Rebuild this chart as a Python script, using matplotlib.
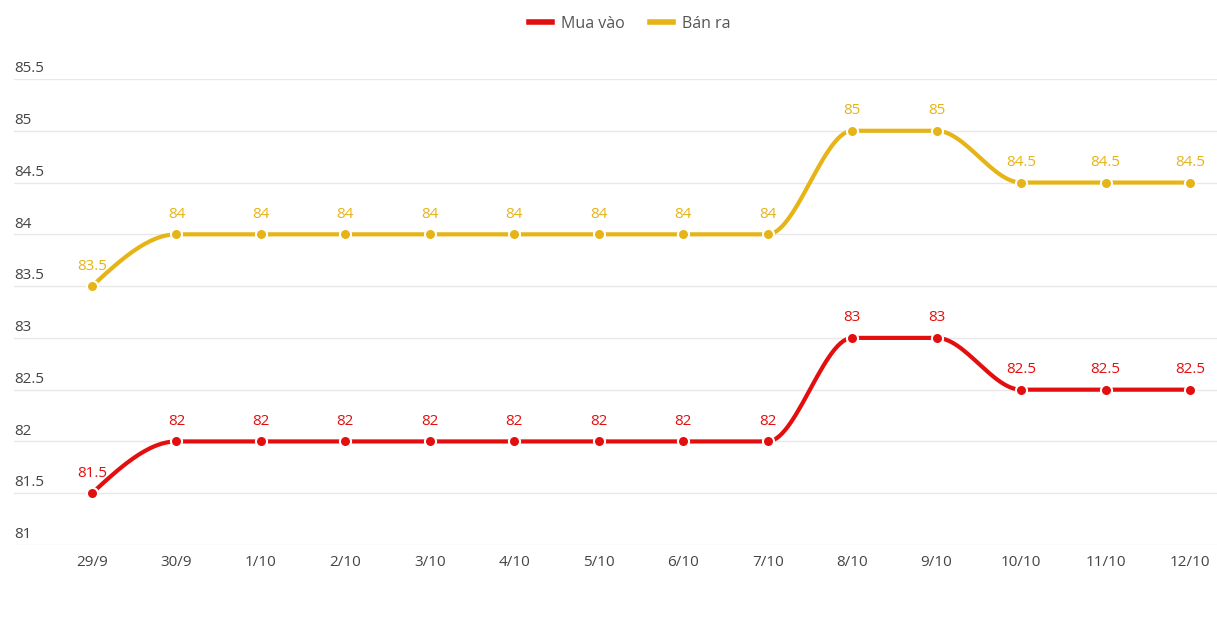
import numpy as np
import matplotlib
matplotlib.use('Agg')
import matplotlib.pyplot as plt
import matplotlib.transforms as mtransforms
from matplotlib.lines import Line2D

plt.rcParams['font.family'] = ['Open Sans', 'DejaVu Sans']

dates = ['29/9', '30/9', '1/10', '2/10', '3/10', '4/10', '5/10', '6/10', '7/10',
         '8/10', '9/10', '10/10', '11/10', '12/10']
mua_vao = [81.5, 82, 82, 82, 82, 82, 82, 82, 82, 83, 83, 82.5, 82.5, 82.5]
ban_ra = [83.5, 84, 84, 84, 84, 84, 84, 84, 84, 85, 85, 84.5, 84.5, 84.5]
y_ticks = [81, 81.5, 82, 82.5, 83, 83.5, 84, 84.5, 85, 85.5]

RED = '#e30e0e'
GOLD = '#e6b417'


def monotone(x, y, n=30):
    # Fritsch-Carlson monotone cubic interpolation
    x = np.asarray(x, float)
    y = np.asarray(y, float)
    h = np.diff(x)
    d = np.diff(y) / h
    m = np.zeros_like(y)
    for i in range(1, len(y) - 1):
        if d[i - 1] * d[i] <= 0:
            m[i] = 0
        else:
            m[i] = 3 * (h[i - 1] + h[i]) / ((2 * h[i] + h[i - 1]) / d[i - 1] + (h[i] + 2 * h[i - 1]) / d[i])
    # endpoints like d3 monotoneX
    m[0] = (3 * d[0] - m[1]) / 2 if d[0] != 0 else 0
    m[-1] = (3 * d[-1] - m[-2]) / 2 if d[-1] != 0 else 0
    xs, ys = [], []
    for i in range(len(x) - 1):
        t = np.linspace(0, 1, n)
        h00 = 2 * t**3 - 3 * t**2 + 1
        h10 = t**3 - 2 * t**2 + t
        h01 = -2 * t**3 + 3 * t**2
        h11 = t**3 - t**2
        xs.append(x[i] + t * h[i])
        ys.append(h00 * y[i] + h10 * h[i] * m[i] + h01 * y[i + 1] + h11 * h[i] * m[i + 1])
    return np.concatenate(xs), np.concatenate(ys)


fig = plt.figure(figsize=(12.17, 6.18), dpi=100)
ax = fig.add_axes([14 / 1217, 1 - 545 / 618, 1 - 14 / 1217, (545 - 79) / 618])

x = np.arange(len(dates))
for vals, col in [(ban_ra, GOLD), (mua_vao, RED)]:
    sx, sy = monotone(x, vals)
    ax.plot(sx, sy, color=col, lw=3, solid_capstyle='round', zorder=3)
    ax.plot(x, vals, 'o', color=col, ms=8, mec='white', mew=1.5, zorder=4)
    for xi, v in zip(x, vals):
        ax.annotate('{:g}'.format(v), (xi, v), xytext=(0, 9), textcoords='offset points',
                    ha='center', va='bottom', color=col, fontsize=11)

step = (1190 - 92) / 13
ax.set_xlim(-(92 - 14) / step, 13 + (1217 - 1190) / step)
ax.set_ylim(81, 85.5)

for t in y_ticks:
    ax.axhline(t, color='#e8e8e8', lw=1, zorder=1)
trans = mtransforms.blended_transform_factory(ax.transAxes, ax.transData)
for t in y_ticks:
    ax.annotate('{:g}'.format(t), (0, t), xycoords=trans, xytext=(0, 2), textcoords='offset points',
                ha='left', va='bottom', color='#444444', fontsize=11)

for xi, lab in zip(x, dates):
    ax.annotate(lab, (xi, 81), xytext=(0, -7), textcoords='offset points',
                ha='center', va='top', color='#444444', fontsize=11)

ax.set_xticks([])
ax.set_yticks([])
for s in ax.spines.values():
    s.set_visible(False)

handles = [Line2D([], [], color=RED, lw=4), Line2D([], [], color=GOLD, lw=4)]
fig.legend(handles, ['Mua vào', 'Bán ra'], loc='center', bbox_to_anchor=(630 / 1217, 1 - 24 / 618),
           ncol=2, frameon=False, fontsize=11.5, handlelength=1.4, handletextpad=0.6, columnspacing=1.6,
           labelcolor='#555555')

fig.savefig('out.png', dpi=100)
